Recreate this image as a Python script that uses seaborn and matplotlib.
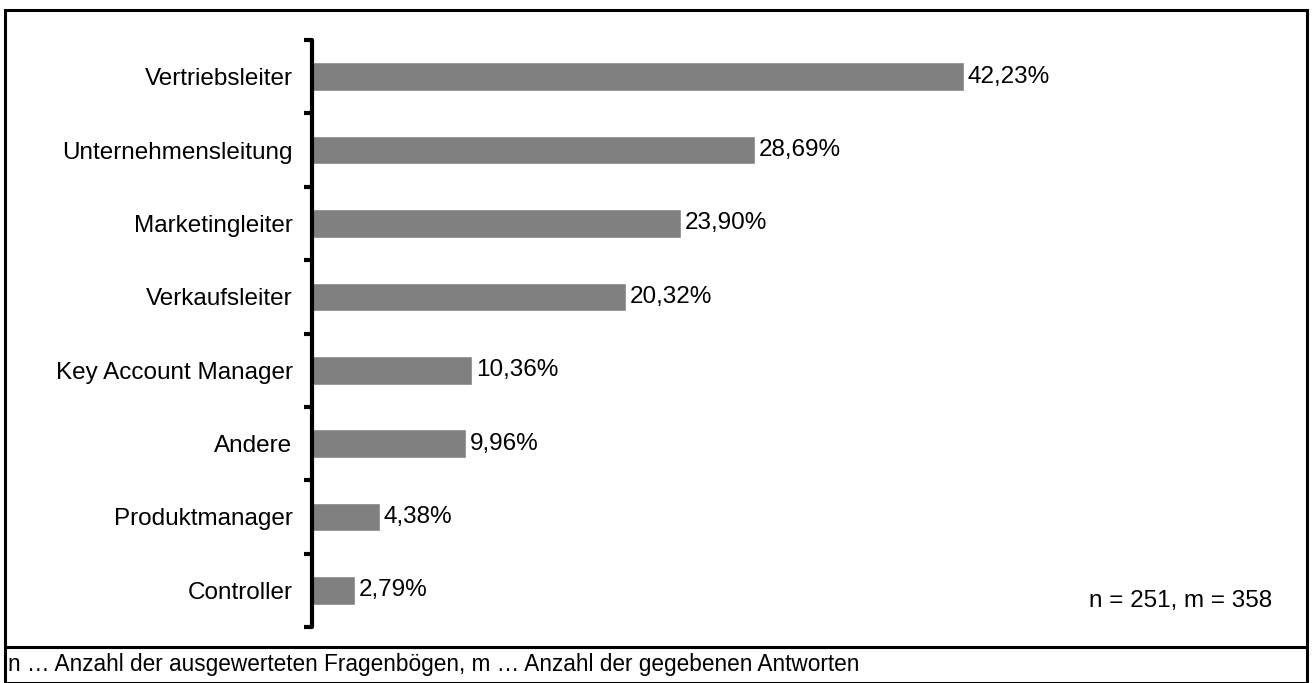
import matplotlib
matplotlib.use("Agg")
import matplotlib.pyplot as plt
import seaborn as sns
import pandas as pd
from matplotlib.lines import Line2D
from matplotlib.patches import Rectangle

categories = ["Vertriebsleiter", "Unternehmensleitung", "Marketingleiter", "Verkaufsleiter",
              "Key Account Manager", "Andere", "Produktmanager", "Controller"]
values = [42.23, 28.69, 23.90, 20.32, 10.36, 9.96, 4.38, 2.79]
note = "n = 251, m = 358"
footnote = "n \u2026 Anzahl der ausgewerteten Fragenb\u00f6gen, m \u2026 Anzahl der gegebenen Antworten"

sns.set_style("white")
plt.rcParams['font.family'] = ['Liberation Sans', 'DejaVu Sans']
plt.rcParams['text.color'] = 'black'
fs = 17.5

df = pd.DataFrame({"cat": categories, "val": values})

fig = plt.figure(figsize=(13.12, 6.83), dpi=100)
ax = fig.add_axes([0.2378, 0.082, 0.944 - 0.2378, 0.9414 - 0.082])
sns.barplot(data=df, x="val", y="cat", orient="h", color="#808080", saturation=1,
            width=0.39, ax=ax)

# value labels with german decimal comma
for i, v in enumerate(values):
    ax.text(v + 0.25, i, f"{v:.2f}%".replace(".", ","), va="center", ha="left", fontsize=fs)

ax.set_xlim(0, 60)
ax.set_ylim(7.5, -0.5)
ax.set_xlabel("")
ax.set_ylabel("")
ax.set_xticks([])
for s in ["top", "right", "bottom"]:
    ax.spines[s].set_visible(False)
ax.spines["left"].set_linewidth(3)
ax.spines["left"].set_color("black")
ax.spines["left"].set_capstyle("round")
ax.tick_params(axis="y", which="major", length=0, pad=14, labelsize=fs, labelcolor="black")
ax.set_yticks([i - 0.5 for i in range(len(categories) + 1)], minor=True)
ax.tick_params(axis="y", which="minor", length=6, width=3, direction="out", left=True, color="black")
ax.patch.set_alpha(0)

fig.text(1181 / 1312, 1 - 601 / 683, note, ha="center", va="center", fontsize=fs)

# outer frame and footnote separator
fig.patches.append(Rectangle((5 / 1312, 0), 1302 / 1312, 1 - 10 / 683, transform=fig.transFigure,
                             fill=False, edgecolor="black", linewidth=2.2))
fig.lines.append(Line2D([5 / 1312, 1307 / 1312], [1 - 647 / 683] * 2, transform=fig.transFigure,
                        color="black", linewidth=2.2))
fig.text(8 / 1312, 1 - 665 / 683, footnote, ha="left", va="center", fontsize=16.3)

fig.savefig("out.png", dpi=100)
